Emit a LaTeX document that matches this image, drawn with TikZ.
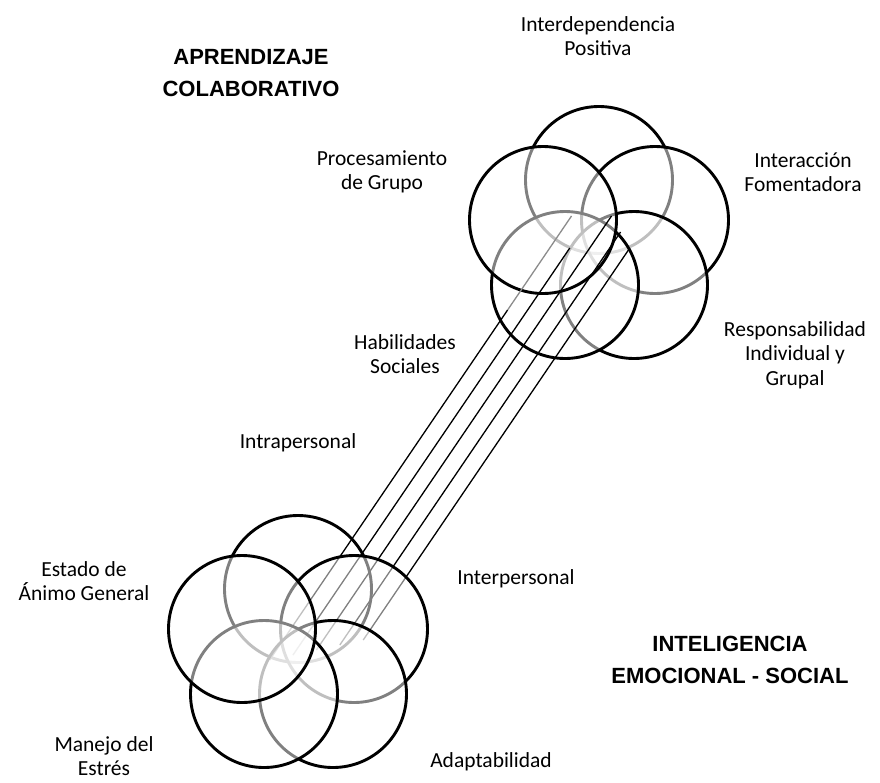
\documentclass[tikz,border=0pt]{standalone}
\usepackage{fontspec}
\setmainfont{Carlito}
\newfontfamily\titlefont{Liberation Sans}
\begin{document}
\begin{tikzpicture}[x=1pt,y=-1pt,
  circ/.style={circle,draw=black,line width=2.9pt,fill=white,fill opacity=0.5,draw opacity=1,minimum size=147pt,inner sep=0pt},
  lbl/.style={align=center,inner sep=0pt,font=\fontsize{21.5}{24.5}\selectfont},
  ttl/.style={align=center,inner sep=0pt,font=\titlefont\bfseries\fontsize{22}{32}\selectfont},
  link/.style={line width=1.3pt,black},
  fadelink/.style={line width=1.3pt,black!45}]
\useasboundingbox (0,0) rectangle (880,782);
% ---- top cluster (Aprendizaje colaborativo)
\node[circ] (ipos) at (599,180) {};
\node[circ] (ifom) at (655,220) {};
\node[circ] (resp) at (634,285) {};
\node[circ] (hab)  at (565,285) {};
\node[circ] (proc) at (543,220) {};
% ---- bottom cluster (Inteligencia emocional-social)
\node[circ] (intra) at (298,589) {};
% link end points
\coordinate (a1) at (571.5,216);
\coordinate (a2) at (569.8,248);
\coordinate (a3) at (611.5,216);
\coordinate (a4) at (620.6,232);
\coordinate (a5) at (629.8,248);
\coordinate (m1) at (507.6,310);
\coordinate (b1) at (269.6,660);
\coordinate (b2) at (293.0,655);
\coordinate (b3) at (316.4,650);
\coordinate (b4) at (339.8,645);
\coordinate (b5) at (363.2,640);
\draw[link] (b1) -- (m1);
\draw[fadelink] (m1) -- (a1);
\draw[link] (b2) -- (a2);
\draw[link] (b3) -- (a3);
\draw[link] (b4) -- (a4);
\draw[link] (b5) -- (a5);
\node[circ] (inter) at (354,629) {};
\node[circ] (adap)  at (333,694) {};
\node[circ] (estr)  at (264,694) {};
\node[circ] (animo) at (242,629) {};
% ---- titles
\node[ttl] (t1) at (251,73) {APRENDIZAJE\\COLABORATIVO};
\node[ttl] (t2) at (730,660) {INTELIGENCIA\\EMOCIONAL - SOCIAL};
% ---- labels
\node[lbl] (l1) at (598,36) {Interdependencia\\Positiva};
\node[lbl] (l2) at (382,172) {Procesamiento\\de Grupo};
\node[lbl] (l3) at (803,172) {Interacción\\Fomentadora};
\node[lbl] (l4) at (405,354) {Habilidades\\Sociales};
\node[lbl] (l5) at (795,355) {Responsabilidad\\Individual y\\Grupal};
\node[lbl] (l6) at (298,443) {Intrapersonal};
\node[lbl] (l7) at (84,581) {Estado de\\Ánimo General};
\node[lbl] (l8) at (516,579) {Interpersonal};
\node[lbl] (l9) at (104,756) {Manejo del\\Estrés};
\node[lbl] (l10) at (491,762) {Adaptabilidad};
\end{tikzpicture}
\end{document}
